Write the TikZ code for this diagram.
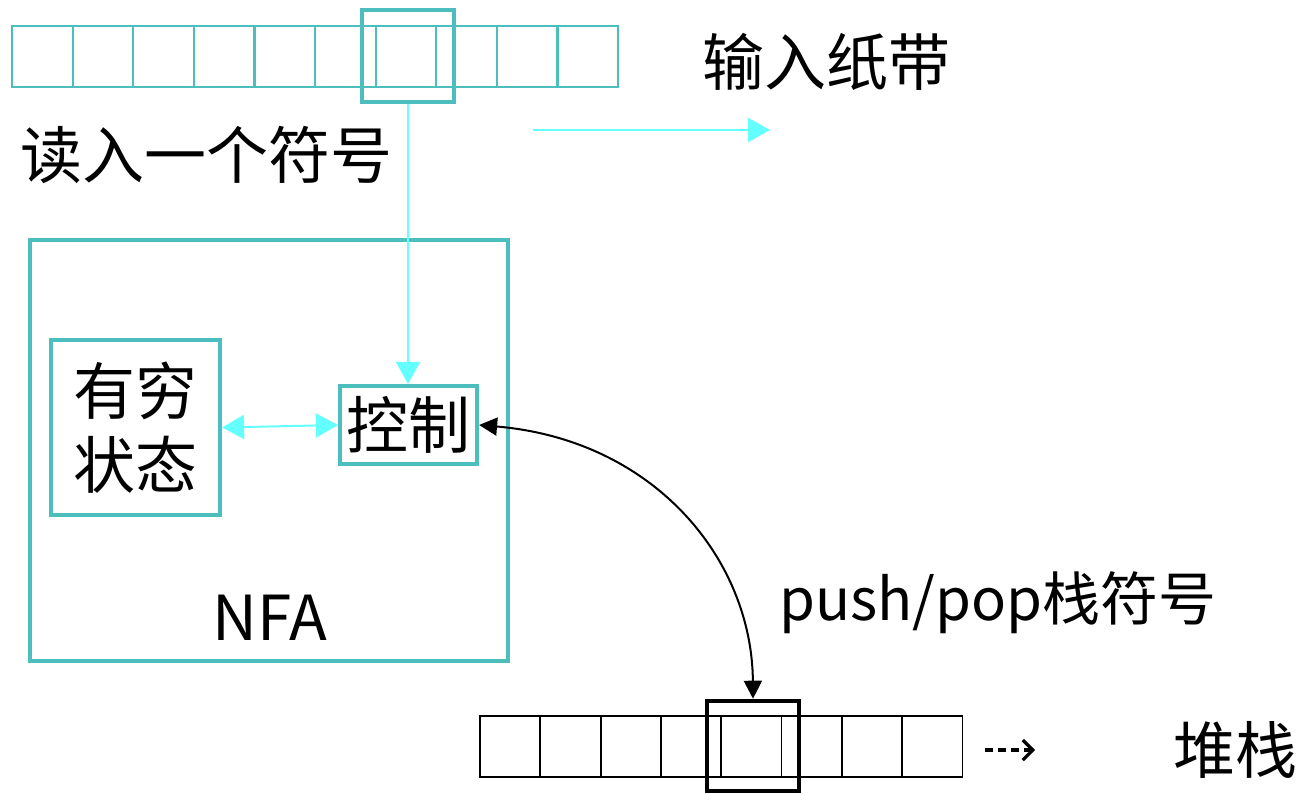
\documentclass[tikz,border=0pt]{standalone}
\usepackage{fontspec}
\setmainfont{Noto Sans CJK SC}
\usepackage{tikz}
\usetikzlibrary{arrows.meta,calc,positioning}
\definecolor{tealline}{RGB}{77,190,190}
\definecolor{cyanline}{RGB}{100,255,255}
\tikzset{
  tapecell/.style={draw=tealline,line width=1.1pt},
  stackcell/.style={draw=black,line width=0.9pt},
  headbox/.style={draw,line width=2.3pt,inner sep=0pt},
  framebox/.style={draw=tealline,line width=2.1pt,inner sep=0pt},
  label/.style={inner sep=0pt,font=\fontsize{31}{37}\selectfont},
  cyanarrow/.style={cyanline,line width=1pt,-{Triangle[length=11pt,width=12pt]}},
  blackarrow/.style={black,line width=1pt,{Triangle[length=9pt,width=9pt]}-{Triangle[length=9pt,width=9pt]}},
}
\begin{document}
\begin{tikzpicture}[x=0.5pt,y=-0.5pt]
\useasboundingbox (0,0) rectangle (1315,793);
%Eingabeband oben, 10 Zellen
\pgfmathsetmacro{\cw}{60.6}
\foreach \i in {0,...,9}{
\draw[tapecell] (12+\i*\cw,26) rectangle ++(\cw,61);
}
\node[headbox,draw=tealline,minimum width=46pt,minimum height=46pt] (inhead) at (408,56) {};
%Stapel unten, 8 Zellen
\pgfmathsetmacro{\sw}{60.3}
\foreach \i in {0,...,7}{
\draw[stackcell] (480+\i*\sw,716) rectangle ++(\sw,61);
}
\node[headbox,draw=black,minimum width=46pt,minimum height=45pt] (stackhead) at (753,746) {};
%Automat
\node[framebox,minimum width=239pt,minimum height=210.5pt] (nfa) at (269,450.5) {};
\node[framebox,minimum width=84.5pt,minimum height=87.5pt,label,align=center] (finite) at (135.5,427.5) {有穷\\状态};
\node[framebox,minimum width=68.5pt,minimum height=39pt,label] (ctrl) at (408.5,425) {控制};
\node[label] (nfalabel) at (270,618) {NFA};
%Beschriftungen
\node[label] (tapelabel) at (826,62) {输入纸带};
\node[label] (readlabel) at (206,155) {读入一个符号};
\node[label,font=\fontsize{29}{35}\selectfont] (pplabel) at (998,603) {push/pop栈符号};
\node[label] (stacklabel) at (1235,750) {堆栈};
%Pfeile
\coordinate (moveA) at (533,130);
\coordinate (moveB) at (770,130);
\draw[cyanarrow] (moveA) -- (moveB);
\draw[cyanarrow] (inhead.south) -- (inhead.south |- ctrl.north);
\draw[cyanarrow,{Triangle[length=11pt,width=12pt]}-{Triangle[length=11pt,width=12pt]}] (finite.east) -- (ctrl.west);
\draw[blackarrow] (ctrl.east) .. controls (655,440) and (752,560) .. (stackhead.north);
\coordinate (dotA) at (985,750);
\coordinate (dotB) at (1035,750);
\draw[line width=1.6pt,dash pattern=on 4pt off 2.5pt,-{Straight Barb[length=5pt,width=10pt]}] (dotA) -- (dotB);
\end{tikzpicture}
\end{document}
